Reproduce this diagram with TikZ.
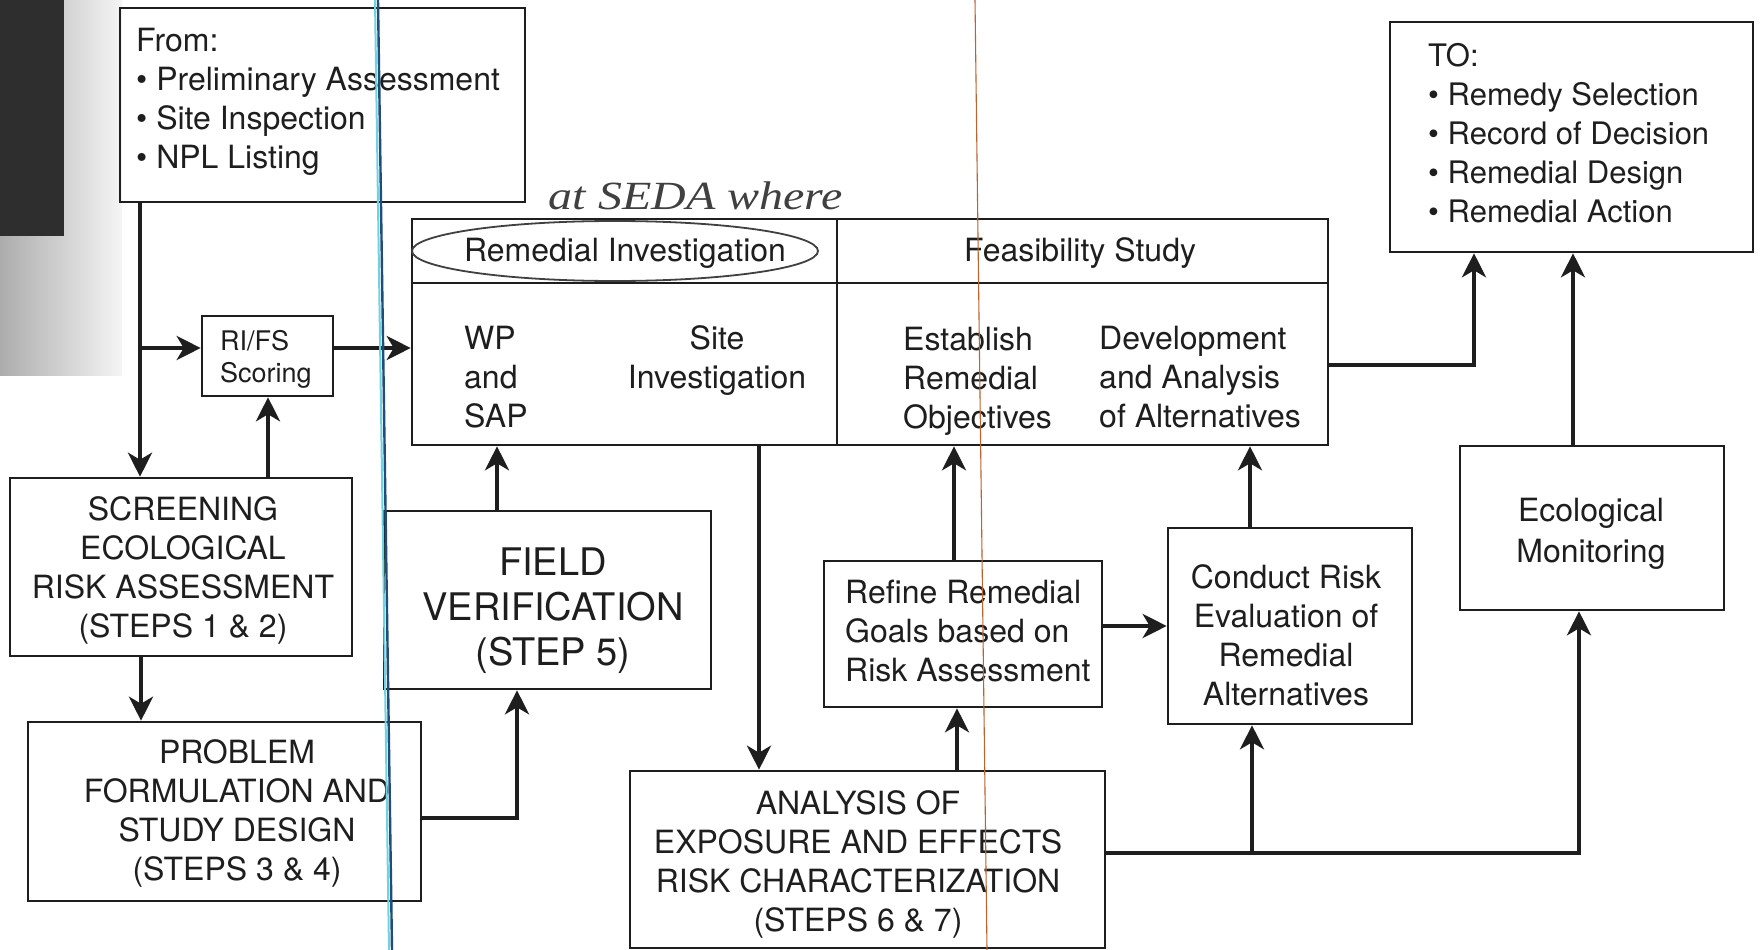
\documentclass[tikz,border=0pt]{standalone}
\usepackage{fontspec}
\setmainfont{TeX Gyre Heros}
\newfontfamily\handfont{Liberation Serif}
\usetikzlibrary{arrows.meta}
\definecolor{ink}{HTML}{1E1E1E}
\definecolor{scanblue}{HTML}{1F4E7A}
\definecolor{scancyan}{HTML}{6FD3E3}
\definecolor{scanorange}{HTML}{C0622E}
\begin{document}
\begin{tikzpicture}[x=1pt,y=-1pt,
  box/.style={draw=ink, line width=2.6pt, inner sep=0pt},
  lbl/.style={text=ink, inner sep=0pt, font=\fontsize{32}{39}\selectfont},
  conn/.style={draw=ink, line width=4pt,
    -{Stealth[length=24pt,width=24pt,inset=7pt]}},
  hand/.style={draw=ink!85, line width=1.8pt}]

\useasboundingbox (0,0) rectangle (1762,950);
\fill[white] (0,0) rectangle (1762,950);

% dark margin of the scanned page
\shade[left color=gray!65, right color=gray!8] (0,0) rectangle (122,375);
\fill[black!82] (0,0) rectangle (64,236);

% ---------- boxes ----------
\node[box, minimum width=405pt, minimum height=194pt] (from) at (322.5,105) {};
\node[box, minimum width=363pt, minimum height=230pt] (to) at (1571.5,137) {};
\node[box, minimum width=131pt, minimum height=80pt] (rifs) at (267.5,356) {};
\node[box, minimum width=916pt, minimum height=226pt] (table) at (870,332) {};
\node[box, minimum width=342pt, minimum height=178pt] (screen) at (181,567) {};
\node[box, minimum width=393pt, minimum height=179pt] (problem) at (224.5,811.5) {};
\node[box, minimum width=327pt, minimum height=178pt] (field) at (547.5,600) {};
\node[box, minimum width=475pt, minimum height=177pt] (analysis) at (867.5,859.5) {};
\node[box, minimum width=278pt, minimum height=146pt] (refine) at (963,634) {};
\node[box, minimum width=244pt, minimum height=196pt] (conduct) at (1290,626) {};
\node[box, minimum width=264pt, minimum height=164pt] (eco) at (1592,528) {};

% table rulings
\coordinate (yhead) at (0,283);
\coordinate (xdiv) at (837,0);
\draw[ink, line width=2.6pt] (table.west |- yhead) -- (table.east |- yhead);
\draw[ink, line width=2.6pt] (table.north -| xdiv) -- (table.south -| xdiv);

% ---------- texts ----------
\node[lbl, anchor=west, align=left] (fromtext) at (136,102)
  {From:\\\textbullet\ Preliminary Assessment\\\textbullet\ Site Inspection\\\textbullet\ NPL Listing};
\node[lbl, anchor=west, align=left, font=\fontsize{31}{39}\selectfont] (totext) at (1428,133)
  {TO:\\\textbullet\ Remedy Selection\\\textbullet\ Record of Decision\\\textbullet\ Remedial Design\\\textbullet\ Remedial Action};
\node[lbl, anchor=west, align=left, font=\fontsize{27}{32}\selectfont] (rifstext) at (220,359)
  {RI/FS\\Scoring};
\node[lbl] (ritext) at (625,253) {Remedial Investigation};
\node[lbl] (fstext) at (1080,253) {Feasibility Study};
\node[lbl, anchor=west, align=left] (wptext) at (464,377) {WP\\and\\SAP};
\node[lbl, align=center] (sitetext) at (717,361) {Site\\Investigation};
\node[lbl, anchor=west, align=left] (esttext) at (903,381) {Establish\\Remedial\\Objectives};
\node[lbl, anchor=west, align=left] (devtext) at (1099,377) {Development\\and Analysis\\of Alternatives};
\node[lbl, align=center] (screentext) at (183,570)
  {SCREENING\\ECOLOGICAL\\RISK ASSESSMENT\\(STEPS 1 \& 2)};
\node[lbl, align=center] (problemtext) at (237,813)
  {PROBLEM\\FORMULATION AND\\STUDY DESIGN\\(STEPS 3 \& 4)};
\node[lbl, align=center, font=\fontsize{38}{45}\selectfont] (fieldtext) at (553,611)
  {FIELD\\VERIFICATION\\(STEP 5)};
\node[lbl, align=center] (analysistext) at (858,864)
  {ANALYSIS OF\\EXPOSURE AND EFFECTS\\RISK CHARACTERIZATION\\(STEPS 6 \& 7)};
\node[lbl, anchor=west, align=left] (refinetext) at (845,631.5)
  {Refine Remedial\\Goals based on\\Risk Assessment};
\node[lbl, align=center] (conducttext) at (1286,635)
  {Conduct Risk\\Evaluation of\\Remedial\\Alternatives};
\node[lbl, align=center, font=\fontsize{32}{41}\selectfont] (ecotext) at (1591,534)
  {Ecological\\Monitoring};

% ---------- connectors ----------
\coordinate (xa) at (140,0);
\coordinate (ya) at (0,348);
\coordinate (xb) at (268,0);
\coordinate (xc) at (497,0);
\coordinate (yd) at (0,818);
\coordinate (xe) at (517,0);
\coordinate (xf) at (759,0);
\coordinate (xg) at (954,0);
\coordinate (xh) at (957,0);
\coordinate (yi) at (0,626);
\coordinate (xj) at (1250,0);
\coordinate (yk) at (0,853);
\coordinate (xl) at (1579,0);
\coordinate (xm) at (1252,0);
\coordinate (yn) at (0,365);
\coordinate (xo) at (1474,0);
\coordinate (xp) at (1573,0);
\coordinate (xq) at (141,0);
\coordinate (j1) at (xa |- ya);
\coordinate (j2) at (xm |- yk);

\draw[conn] (from.south -| xa) -- (screen.north -| xa);
\draw[conn] (j1) -- (rifs.west |- ya);
\draw[conn] (screen.north -| xb) -- (rifs.south -| xb);
\draw[conn] (screen.south -| xq) -- (problem.north -| xq);
\draw[conn] (rifs.east |- ya) -- (table.west |- ya);
\draw[conn] (field.north -| xc) -- (table.south -| xc);
\draw[conn] (problem.east |- yd) -| (field.south -| xe);
\draw[conn] (table.south -| xf) -- (analysis.north -| xf);
\draw[conn] (refine.north -| xg) -- (table.south -| xg);
\draw[conn] (analysis.north -| xh) -- (refine.south -| xh);
\draw[conn] (refine.east |- yi) -- (conduct.west |- yi);
\draw[conn] (conduct.north -| xj) -- (table.south -| xj);
\draw[conn] (analysis.east |- yk) -| (eco.south -| xl);
\draw[conn] (j2) -- (conduct.south -| xm);
\draw[conn] (table.east |- yn) -| (to.south -| xo);
\draw[conn] (eco.north -| xp) -- (to.south -| xp);

% ---------- handwritten note ----------
\node[text=ink!85, inner sep=0pt, xscale=1.2, transform shape,
  font=\handfont\itshape\fontsize{40}{40}\selectfont] (note) at (696,196) {at SEDA where};
\draw[hand] (615,251) ellipse [x radius=203pt, y radius=30pt];

% ---------- scanner streaks ----------
\draw[scancyan, line width=2pt] (375,0) -- (389,950);
\draw[scanblue, line width=2.4pt] (378,0) -- (392,950);
\draw[scanorange, line width=1.1pt] (975,0) -- (987,950);

\end{tikzpicture}
\end{document}
